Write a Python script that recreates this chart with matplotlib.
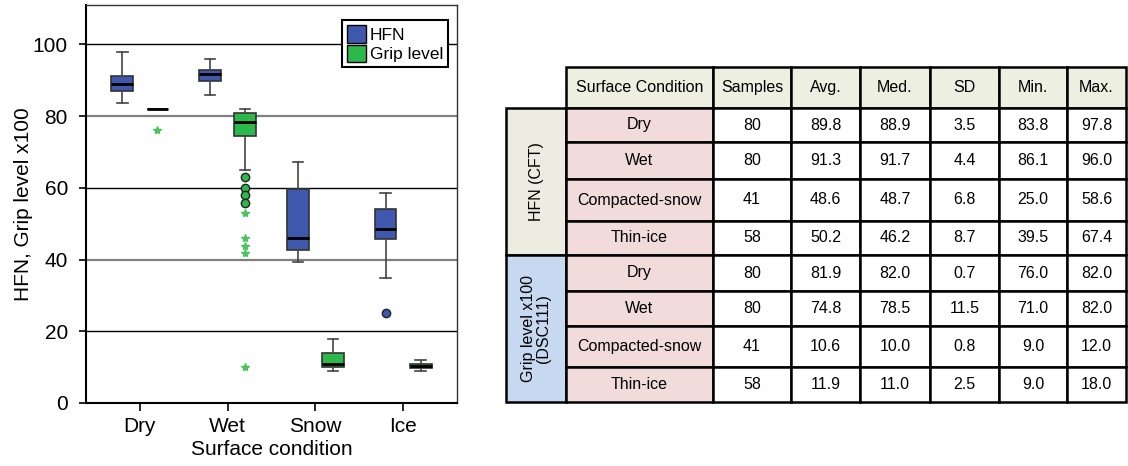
import matplotlib
matplotlib.use("Agg")
import matplotlib.pyplot as plt
from matplotlib.patches import Patch, Rectangle

plt.rcParams["font.family"] = ["Liberation Sans", "DejaVu Sans"]

# ---- box plot summaries -------------------------------------------------
categories = ["Dry", "Wet", "Snow", "Ice"]

hfn_whislo = [83.7, 86.0, 39.4, 35.0]
hfn_q1 = [86.9, 89.8, 42.6, 45.7]
hfn_med = [88.9, 91.7, 46.1, 48.6]
hfn_q3 = [91.2, 92.8, 59.6, 54.1]
hfn_whishi = [97.9, 95.9, 67.3, 58.5]
hfn_outliers = [[], [], [], [25.0]]
hfn_extremes = [[], [], [], []]

grip_whislo = [82.0, 65.0, 8.9, 8.9]
grip_q1 = [82.0, 74.5, 10.0, 9.8]
grip_med = [82.0, 78.4, 10.9, 10.4]
grip_q3 = [82.0, 80.8, 13.9, 11.0]
grip_whishi = [82.0, 82.0, 17.9, 11.9]
grip_outliers = [[], [63.0, 60.0, 58.0, 55.9], [], []]
grip_extremes = [[76.0], [52.9, 45.9, 43.9, 41.9, 10.0], [], []]

# ---- summary table ------------------------------------------------------
table_columns = ["Surface Condition", "Samples", "Avg.", "Med.", "SD", "Min.", "Max."]
table_groups = ["HFN (CFT)", "Grip level x100\n(DSC111)"]
table_conditions = ["Dry", "Wet", "Compacted-snow", "Thin-ice"]
table_samples = [80, 80, 41, 58, 80, 80, 41, 58]
table_avg = [89.8, 91.3, 48.6, 50.2, 81.9, 74.8, 10.6, 11.9]
table_med = [88.9, 91.7, 48.7, 46.2, 82.0, 78.5, 10.0, 11.0]
table_sd = [3.5, 4.4, 6.8, 8.7, 0.7, 11.5, 0.8, 2.5]
table_min = [83.8, 86.1, 25.0, 39.5, 76.0, 71.0, 9.0, 9.0]
table_max = [97.8, 96.0, 58.6, 67.4, 82.0, 82.0, 12.0, 18.0]

BLUE = "#3F58AE"
GREEN = "#2DB84B"
STAR_GREEN = "#4CC35C"

fig = plt.figure(figsize=(11.28, 4.66), dpi=100)
ax = fig.add_axes([86 / 1128, 1 - 403 / 466, 371 / 1128, 398 / 466])


def draw_group(stats_src, offset, color, outliers, extremes):
    whislo, q1, med, q3, whishi = stats_src
    stats = []
    for i in range(len(categories)):
        stats.append(dict(med=med[i], q1=q1[i], q3=q3[i],
                          whislo=whislo[i], whishi=whishi[i],
                          fliers=outliers[i]))
    positions = [i + 1 + offset for i in range(len(categories))]
    ax.bxp(stats, positions=positions, widths=0.25, capwidths=0.12,
           patch_artist=True, manage_ticks=False,
           boxprops=dict(facecolor=color, edgecolor="#333333", linewidth=1.2),
           medianprops=dict(color="black", linewidth=2.0),
           whiskerprops=dict(color="#444444", linewidth=1.2),
           capprops=dict(color="#444444", linewidth=1.2),
           flierprops=dict(marker="o", markerfacecolor=color,
                           markeredgecolor="#222222", markersize=6,
                           linestyle="none"),
           zorder=3)
    for pos, vals in zip(positions, extremes):
        if vals:
            ax.plot([pos] * len(vals), vals, linestyle="none", marker="*",
                    color=STAR_GREEN, markersize=6, zorder=4)


draw_group((hfn_whislo, hfn_q1, hfn_med, hfn_q3, hfn_whishi), -0.2, BLUE,
           hfn_outliers, hfn_extremes)
draw_group((grip_whislo, grip_q1, grip_med, grip_q3, grip_whishi), 0.2, GREEN,
           grip_outliers, grip_extremes)

ax.set_xlim(0.385, 4.615)
ax.set_ylim(0, 111)
ax.set_yticks([0, 20, 40, 60, 80, 100])
ax.set_xticks(range(1, len(categories) + 1))
ax.set_xticklabels(categories)
ax.tick_params(axis="both", labelsize=15, direction="out", color="black")
ax.tick_params(axis="y", length=5, width=1.2, pad=8)
ax.tick_params(axis="x", length=6, width=1.2, pad=4)
ax.set_xlabel("Surface condition", fontsize=15, labelpad=3)
ax.set_ylabel("HFN, Grip level x100", fontsize=15, labelpad=0)

grid_style = {20: ("black", 1.0), 40: ("#808080", 1.6), 60: ("black", 1.0),
              80: ("#808080", 1.6), 100: ("black", 1.0)}
for yv, (c, lw) in grid_style.items():
    ax.axhline(yv, color=c, linewidth=lw, zorder=1)

for side in ["left", "bottom"]:
    ax.spines[side].set_linewidth(1.5)
for side in ["top", "right"]:
    ax.spines[side].set_linewidth(1.0)
    ax.spines[side].set_color("#333333")

handles = [Patch(facecolor=BLUE, edgecolor="black", label="HFN"),
           Patch(facecolor=GREEN, edgecolor="black", label="Grip level")]
leg = ax.legend(handles=handles, loc="upper right",
                bbox_to_anchor=(0.976, 0.962), borderaxespad=0,
                fontsize=12.5, frameon=True, fancybox=False, framealpha=1,
                edgecolor="black", handlelength=1.1, handleheight=1.15,
                handletextpad=0.2, borderpad=0.3, labelspacing=0.1)
leg.get_frame().set_linewidth(1.5)
leg.set_zorder(5)

# ---- table drawn in pixel space -----------------------------------------
tax = fig.add_axes([0, 0, 1, 1])
tax.set_xlim(0, 1128)
tax.set_ylim(466, 0)
tax.axis("off")

col_edges = [506, 566, 713, 791, 860, 930, 999, 1067, 1126]
row_edges = [67, 108, 142, 179, 221, 255, 291, 326, 367, 402]

HEADER_BG = "#EDEFE0"
ROW_BG = "#F2DCDB"
GROUP_BG = ["#EEECE1", "#C6D9F0"]
EDGE_LW = 1.8
FS = 11.5


def cell(x0, x1, y0, y1, fc, text=None, rotation=0):
    tax.add_patch(Rectangle((x0, y0), x1 - x0, y1 - y0, facecolor=fc,
                            edgecolor="black", linewidth=EDGE_LW))
    if text is not None:
        tax.text((x0 + x1) / 2, (y0 + y1) / 2, text, ha="center",
                 va="center", fontsize=FS, rotation=rotation,
                 multialignment="center", linespacing=1.05)


# header row
for j, name in enumerate(table_columns):
    cell(col_edges[j + 1], col_edges[j + 2], row_edges[0], row_edges[1],
         HEADER_BG, name)

# group label column
for g, label in enumerate(table_groups):
    cell(col_edges[0], col_edges[1], row_edges[1 + 4 * g],
         row_edges[5 + 4 * g], GROUP_BG[g], label, rotation=90)

# body rows
columns = [table_samples, table_avg, table_med, table_sd, table_min, table_max]
for r in range(len(table_samples)):
    y0, y1 = row_edges[r + 1], row_edges[r + 2]
    cell(col_edges[1], col_edges[2], y0, y1, ROW_BG,
         table_conditions[r % len(table_conditions)])
    for j, col in enumerate(columns):
        val = col[r]
        txt = str(val) if isinstance(val, int) else f"{val:.1f}"
        cell(col_edges[j + 2], col_edges[j + 3], y0, y1, "white", txt)

fig.savefig("out.png", dpi=100)
